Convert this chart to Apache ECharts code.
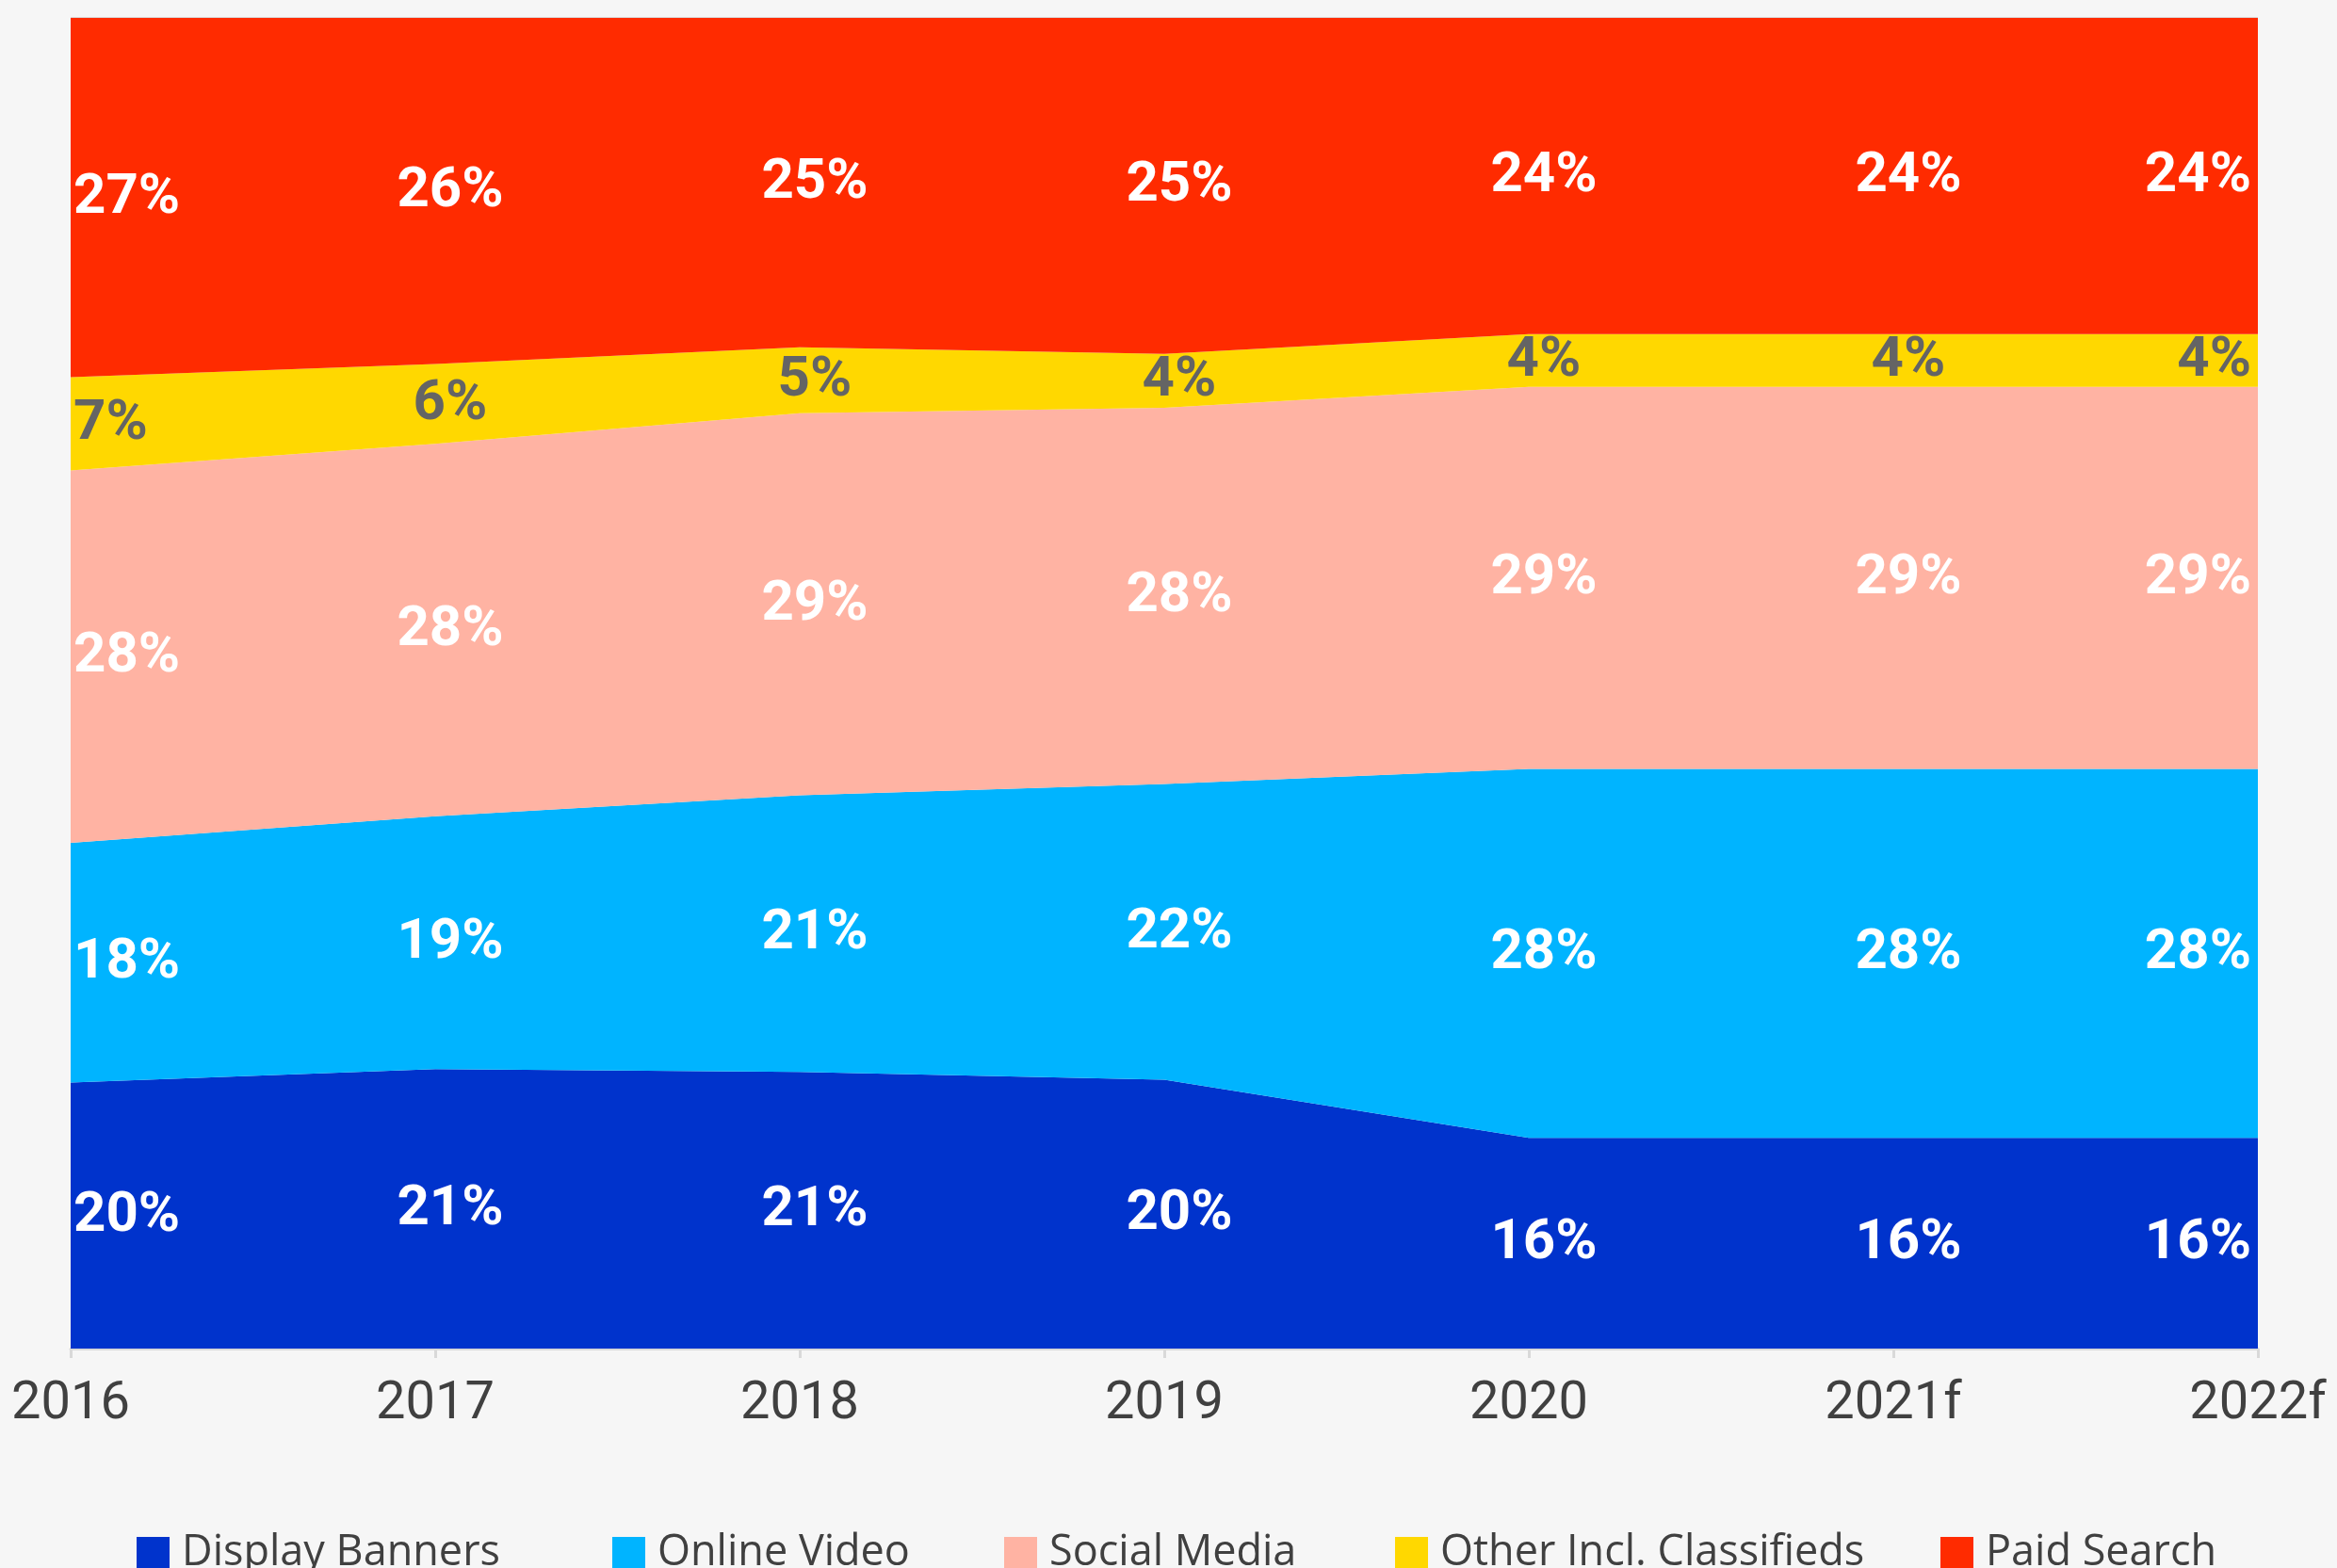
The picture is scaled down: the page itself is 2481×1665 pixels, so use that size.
<!DOCTYPE html>
<html>
<head>
<meta charset="utf-8">
<script src="https://cdn.jsdelivr.net/npm/echarts@6/dist/echarts.min.js"></script>
<style>
html,body{margin:0;padding:0;background:#f6f6f6;}
#chart{width:2481px;height:1665px;}
</style>
</head>
<body>
<div id="chart"></div>
<script>
var years = ['2016', '2017', '2018', '2019', '2020', '2021f', '2022f'];
var displayBanners = [20, 21, 21, 20, 16, 16, 16];
var onlineVideo = [18, 19, 21, 22, 28, 28, 28];
var socialMedia = [28, 28, 29, 28, 29, 29, 29];
var otherClassifieds = [7, 6, 5, 4, 4, 4, 4];
var paidSearch = [27, 26, 25, 25, 24, 24, 24];

var seriesNames = ['Display Banners', 'Online Video', 'Social Media', 'Other Incl. Classifieds', 'Paid Search'];
var seriesColors = ['#0033cc', '#00b4ff', '#ffb3a3', '#ffd800', '#ff2b00'];
var labelColors = ['#ffffff', '#ffffff', '#ffffff', '#646464', '#ffffff'];
var legendLeft = [140, 645, 1061, 1476, 2055];

var allValues = [displayBanners, onlineVideo, socialMedia, otherClassifieds, paidSearch];

// each year is drawn as share of its own total (the rounded values add to 99-101)
var totals = years.map(function(y, i){
    var s = 0;
    allValues.forEach(function(v){ s += v[i]; });
    return s;
});

var series = [];
var base = years.map(function(){ return 0; });

allValues.forEach(function(values, k){
    var share = values.map(function(v, i){ return v / totals[i] * 100; });
    series.push({
        name: seriesNames[k],
        type: 'line',
        stack: 'total',
        symbol: 'none',
        silent: true,
        itemStyle: {color: seriesColors[k]},
        lineStyle: {width: 0, color: seriesColors[k]},
        areaStyle: {color: seriesColors[k], opacity: 1},
        data: share
    });
    //标签放在各色带的中间
    var labelData = values.map(function(v, i){
        var align = 'center', dx = 16;
        if (i == 0){ align = 'left'; dx = 3; }
        if (i == values.length - 1){ align = 'right'; dx = -7; }
        return {
            value: [i, base[i] + share[i] / 2],
            raw: v,
            label: {align: align, offset: [dx, 1]}
        };
    });
    series.push({
        name: 'label-' + k,
        type: 'scatter',
        symbolSize: 1,
        silent: true,
        z: 10,
        itemStyle: {opacity: 0},
        label: {
            show: true,
            position: 'inside',
            opacity: 1,
            color: labelColors[k],
            fontFamily: 'Roboto',
            fontWeight: 'bold',
            fontSize: 60,
            formatter: function(p){ return p.data.raw + '%'; }
        },
        data: labelData
    });
    share.forEach(function(s, i){ base[i] += s; });
});

var legends = seriesNames.map(function(name, k){
    return {
        data: [name],
        left: legendLeft[k],
        top: 1622,
        icon: 'rect',
        itemWidth: 35,
        itemHeight: 35,
        selectedMode: false,
        textStyle: {
            fontFamily: 'Open Sans',
            fontSize: 45,
            lineHeight: 45,
            color: '#404040',
            padding: [0, 0, 0, 8]
        }
    };
});

var chart = echarts.init(document.getElementById('chart'));
chart.setOption({
    backgroundColor: '#f6f6f6',
    animation: false,
    legend: legends,
    grid: {left: 75, right: 84, top: 19, bottom: 233},
    xAxis: {
        type: 'category',
        boundaryGap: false,
        data: years,
        axisLine: {lineStyle: {color: '#d9d9d9', width: 3}},
        axisTick: {show: true, length: 10, lineStyle: {color: '#d9d9d9', width: 3}},
        axisLabel: {
            interval: 0,
            margin: 32,
            fontFamily: 'Roboto',
            fontSize: 56,
            color: '#404040'
        }
    },
    yAxis: {
        type: 'value',
        min: 0,
        max: 100,
        interval: 100,
        axisLabel: {show: false},
        axisLine: {show: false},
        axisTick: {show: false},
        splitLine: {show: true, lineStyle: {color: '#d9d9d9', width: 3}}
    },
    series: series
});
</script>
</body>
</html>
